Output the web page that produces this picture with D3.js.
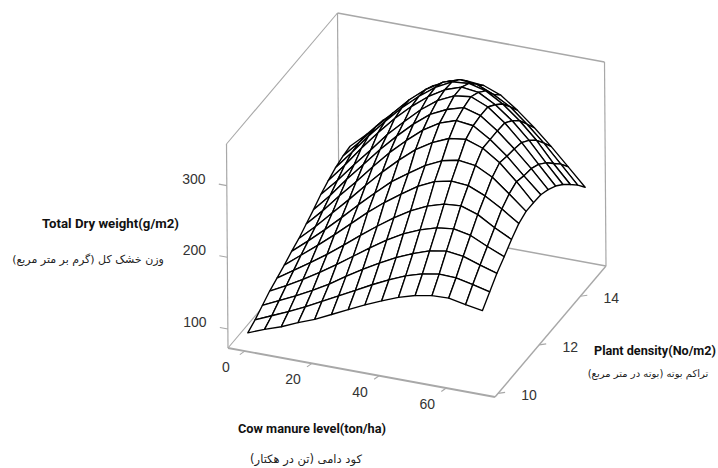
<!DOCTYPE html>
<html><head><meta charset="utf-8">
<style>html,body{margin:0;padding:0;background:#fff}svg{display:block}</style>
<script src="https://d3js.org/d3.v7.min.js"></script></head>
<body><svg id="c" width="718" height="468"></svg>
<script>
const manure = [0,5,10,15,20,25,30,35,40,45,50,55,60,65,70];
const density = [10,10.357,10.714,11.071,11.429,11.786,12.143,12.5,12.857,13.214,13.571,13.929,14.286,14.643,15];
const weight0  = [94,103,111,121,130,141,152,163,173,182,189,193,194,189,185];
const weight1  = [100,110,120,131,143,155,167,179,190,200,207,211,210,205,199];
const weight2  = [108,119,130,142,155,170,184,197,209,219,227,231,228,220,213];
const weight3  = [116,128,141,155,170,186,202,217,230,240,247,250,245,234,224];
const weight4  = [122,137,152,168,185,203,220,236,250,261,268,270,262,248,236];
const weight5  = [128,146,164,183,203,223,241,257,272,283,288,286,276,262,246];
const weight6  = [135,154,174,195,217,238,258,274,289,300,305,302,290,271,251];
const weight7  = [141,162,185,208,232,255,276,295,309,319,322,314,298,276,251];
const weight8  = [149,172,197,221,246,270,291,310,324,332,329,314,295,272,250];
const weight9  = [157,181,208,233,258,281,302,320,331,338,331,314,293,270,245];
const weight10 = [166,190,216,241,267,289,310,327,338,341,331,313,290,264,238];
const weight11 = [173,199,227,253,277,298,316,330,338,335,322,304,281,254,228];
const weight12 = [179,205,232,257,280,300,317,329,331,325,311,292,269,241,216];
const weight13 = [183,207,233,256,279,298,312,320,318,308,295,275,253,228,203];
const weight14 = [185,206,230,250,271,291,302,306,304,295,278,258,236,212,188];
const weights = [weight0,weight1,weight2,weight3,weight4,weight5,weight6,weight7,weight8,weight9,weight10,weight11,weight12,weight13,weight14];
const manureTicks = [0,20,40,60];
const densityTicks = [10,12,14];
const weightTicks = [100,200,300];

const sx = d3.scaleLinear().domain([-5,74.5]).range([0,1]);
const sy = d3.scaleLinear().domain([9.85,15.25]).range([0,1]);
const sz = d3.scaleLinear().domain([73.6,358]).range([0,1]);
const O=[228,348], EX=[267,49], EY=[111,-131], EZ=[-1.5,-204];
const P=(x,y,z)=>{const a=sx(x),b=sy(y),c=sz(z);
  return [O[0]+a*EX[0]+b*EY[0]+c*EZ[0], O[1]+a*EX[1]+b*EY[1]+c*EZ[1]+0];};
const svg=d3.select('#c');
const line=d3.line();
const [x0,x1]=sx.domain(),[y0,y1]=sy.domain(),[z0,z1]=sz.domain();
const gray='#a8a8a8';
const frame=[
 [[x0,y1,z0],[x1,y1,z0],1.5],[[x0,y1,z0],[x0,y1,z1],1.2],[[x1,y1,z0],[x1,y1,z1],1.2],
 [[x0,y1,z1],[x1,y1,z1],1.6],[[x0,y0,z1],[x0,y1,z1],1.1],[[x0,y0,z0],[x0,y0,z1],1.2],
 [[x0,y0,z0],[x0,y1,z0],1.1],[[x0,y0,z0],[x1,y0,z0],1.8],[[x1,y0,z0],[x1,y1,z0],1.4]];
svg.selectAll('path.f').data(frame).join('path').attr('class','f')
  .attr('d',d=>line([P(...d[0]),P(...d[1])])).attr('stroke',gray).attr('stroke-width',d=>d[2]).attr('fill','none');

const tick=(a,dx,dy)=>svg.append('path').attr('d',line([a,[a[0]+dx,a[1]+dy]])).attr('stroke',gray).attr('stroke-width',1.1).attr('fill','none');
const num=(s,x,y)=>svg.append('text').attr('x',x).attr('y',y).attr('text-anchor','middle').attr('dominant-baseline','central')
  .attr('font-family','Liberation Sans').attr('font-size',14).attr('fill','#333').text(s);
weightTicks.forEach(v=>{const a=P(x0,y0,v);tick(a,-8,-1.5);num(v,a[0]-33,a[1]-7);});
manureTicks.forEach(v=>{const a=P(v,y0,z0);tick(a,-5,3.5);num(v,a[0]-19,a[1]+16);});
densityTicks.forEach(v=>{const a=P(x1,v,z0);tick(a,7,-1);num(v,a[0]+31,a[1]+2);});

// surface, back to front
const cells=[];
for(let j=density.length-2;j>=0;j--) for(let i=0;i<manure.length-1;i++){
  cells.push([P(manure[i],density[j],weights[j][i]),P(manure[i+1],density[j],weights[j][i+1]),
              P(manure[i+1],density[j+1],weights[j+1][i+1]),P(manure[i],density[j+1],weights[j+1][i])]);
}
svg.selectAll('path.s').data(cells).join('path').attr('class','s')
  .attr('d',d=>line(d)+'Z').attr('fill','#fff').attr('stroke','#000').attr('stroke-width',1.35).attr('stroke-linejoin','round');

const bold=(s,x,y,w)=>svg.append('text').attr('x',x).attr('y',y).attr('dominant-baseline','central')
  .attr('font-family','Roboto').attr('font-weight',700).attr('font-size',12.5).attr('fill','#111')
  .attr('textLength',w).attr('lengthAdjust','spacingAndGlyphs').text(s);
bold('Total Dry weight(g/m2)',42,223,137);
bold('Cow manure level(ton/ha)',238,428,148);
bold('Plant density(No/m2)',594,350,122);
const fa=(s,x,y,fs)=>svg.append('text').attr('x',x).attr('y',y).attr('text-anchor','middle').attr('dominant-baseline','central')
  .attr('font-family','DejaVu Sans').attr('font-size',fs).attr('fill','#222').attr('direction','rtl').text(s);
fa('وزن خشک کل (گرم بر متر مربع)',88,259,11);
fa('تراکم بوته (بوته در متر مربع)',648,373,10);
fa('کود دامی (تن در هکتار)',306,459,11.5);
</script></body></html>
